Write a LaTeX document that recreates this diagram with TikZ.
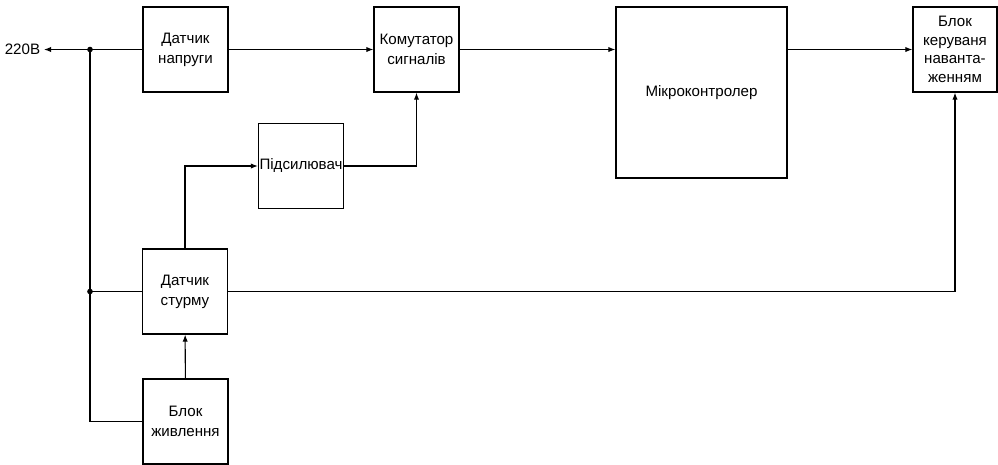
\documentclass[tikz,border=0pt]{standalone}
\usepackage{fontspec}
\setmainfont{Liberation Sans}
\usetikzlibrary{arrows.meta,positioning,calc}

\begin{document}
\begin{tikzpicture}[
  x=0.02cm, y=-0.02cm,
  every node/.style={font=\fontsize{8.6}{11.4}\selectfont},
  blk/.style ={draw, line width=0.7pt, minimum width=1.7cm,
               minimum height=1.7cm, align=center, inner sep=0pt},
  big/.style ={blk, minimum width=3.42cm, minimum height=3.42cm},
  wire/.style={line width=0.6pt},
  arr/.style ={wire, -{Latex[length=4pt,width=3pt]}},
  dot/.style ={circle, fill, inner sep=0pt, minimum size=3.2pt}
]
\useasboundingbox (0,0) rectangle (998,464);

%% --- blocks ---
\node[blk] (dn) at (185.5, 49.5) {Датчик\\напруги};
\node[blk] (km) at (416.5, 49.5) {Комутатор\\сигналів};
\node[big] (mk) at (701.5, 92.5) {Мікроконтролер};
\node[blk, minimum width=1.68cm, font=\fontsize{8.6}{10.6}\selectfont] (bk)
           at (955, 49.5) {Блок\\керуваня\\наванта-\\женням};
\node[blk] (ps) at (301, 166) {Підсилювач};
\node[blk] (ds) at (185, 291.5) {Датчик\\стурму};
\node[blk] (bz) at (185.5, 421.5) {Блок\\живлення};

\node[anchor=east, inner sep=2pt] (mains) at (44, 49.5) {220В};

%% --- junctions ---
\coordinate (j1) at (90, 49.5);
\coordinate (j2) at (90, 291.5);
\node[dot] at (j1) {};
\node[dot] at (j2) {};

%% --- connections ---
\draw[arr] (j1) -- (mains.east);
\draw[wire] (j1) -- (dn.west);
\draw[wire] (j1) |- (bz.west);
\draw[wire] (j2) -- (ds.west);
\draw[arr] (dn) -- (km);
\draw[arr] (km.east) -- (km.east -| mk.west);
\draw[arr] (bk.west -| mk.east) -- (bk.west);
\draw[arr] (bz) -- (ds);
\draw[arr] (ds.north) |- (ps.west);
\draw[arr] (ps.east) -| (km.south);
\draw[arr] (ds.east) -| (bk.south);

\end{tikzpicture}
\end{document}
